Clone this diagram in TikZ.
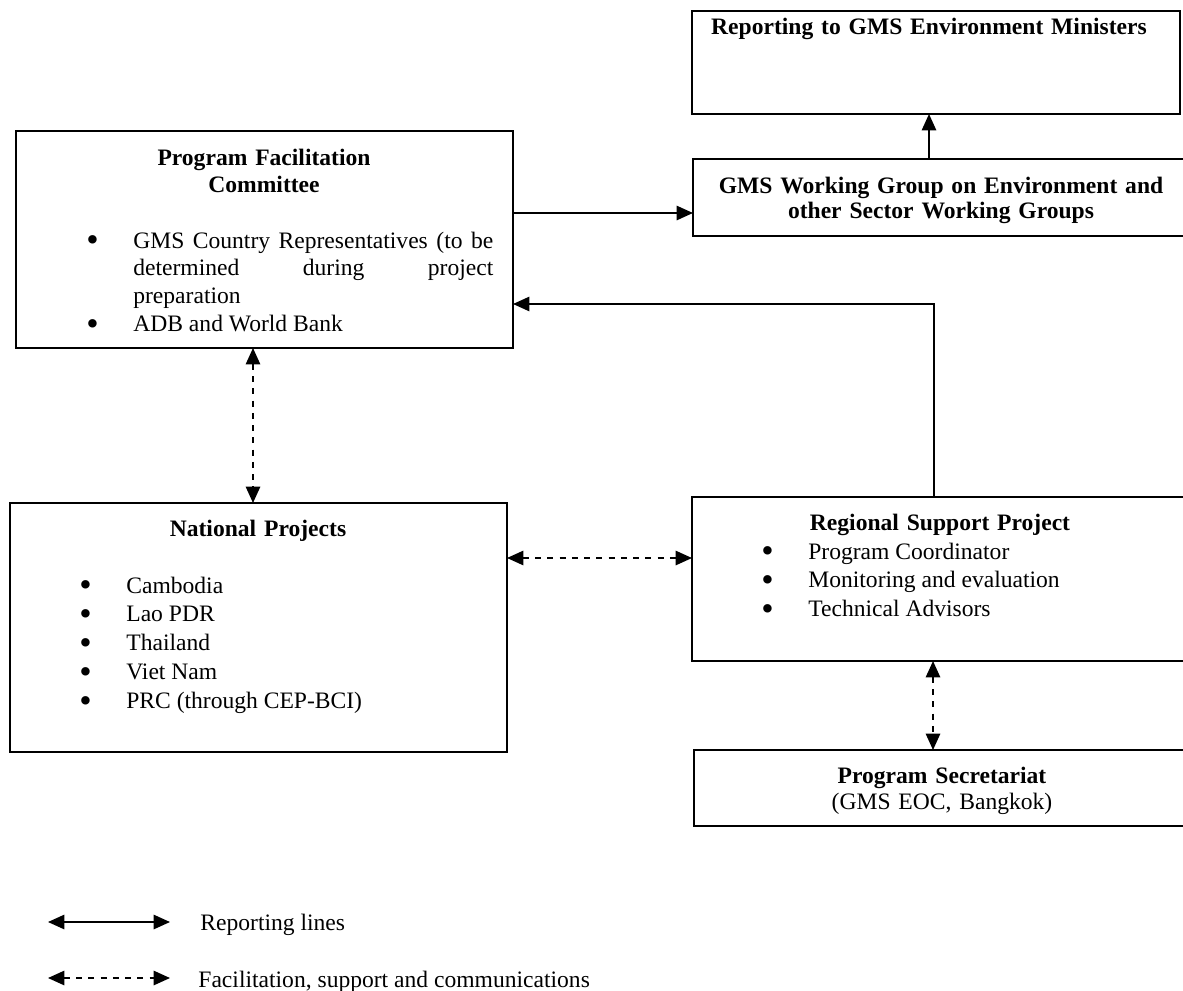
\documentclass[tikz,border=0pt]{standalone}
\usepackage{fontspec}
\usepackage{graphicx}
\setmainfont{Liberation Serif}
\usetikzlibrary{arrows.meta,fit}
\hbadness=10000
\hfuzz=5pt
\tikzset{
    box/.style={draw,line width=0.9pt,inner sep=0pt,outer sep=0pt},
    ttl/.style={anchor=base,align=center,inner sep=0pt,text width=240pt,
        font=\bfseries\fontsize{11.55pt}{12.74pt}\selectfont},
    blist/.style={anchor=base west,inner sep=0pt,text width=#1,align=justify,
        font=\fontsize{11.55pt}{14.2pt}\selectfont},
    blist/.default=200pt,
    legtxt/.style={anchor=base west,inner sep=0pt,font=\fontsize{11.55pt}{14pt}\selectfont},
    rep/.style={line width=0.9pt,->},
    rep2/.style={line width=0.9pt,<->},
    fac/.style={line width=0.9pt,dashed,<->},
}
% first item and next items of a bullet list
\newcommand{\fitem}{\hyphenpenalty=10000\hangindent=23pt\hangafter=1\noindent
    \makebox[23pt][l]{\smash{\raisebox{-1.8pt}{\scalebox{1.5}{\textbullet}}}}}
\newcommand{\bitem}{\par\fitem}

\begin{document}
\begin{tikzpicture}[x=0.49pt,y=-0.49pt,>={Triangle[length=8pt,width=7pt]}]
    \useasboundingbox (0,0) rectangle (1183,991);
    \clip (0,0) rectangle (1183,991);
    % boxes
    \node[box,fit={(692,11) (1180,114)}] (report) {};
    \node[box,fit={(693,159) (1192,236)}] (wg) {};
    \node[box,fit={(16,131) (513,348)}] (pfc) {};
    \node[box,fit={(10,503) (507,752)}] (np) {};
    \node[box,fit={(692,497) (1192,661)}] (rsp) {};
    \node[box,fit={(694,750) (1192,826)}] (ps) {};
    % titles
    \node[ttl] (reportT) at (929,35) {Reporting to GMS Environment Ministers};
    \node[ttl] (wgT) at (941,193) {GMS Working Group on Environment and\\other Sector Working Groups};
    \node[ttl] (pfcT) at (264,165) {Program Facilitation\\[0.6pt]Committee};
    \node[ttl] (npT) at (258,536) {National Projects};
    \node[ttl] (rspT) at (940,530) {Regional Support Project};
    \node[ttl] (psT) at (942,783) {Program Secretariat\\[0.3pt]{\normalfont(GMS EOC, Bangkok)}};
    % bullet lists
    \node[blist=199.4pt,font=\fontsize{11.55pt}{13.7pt}\selectfont] (pfcL) at (86,248)
        {\fitem GMS Country Representatives (to be\linebreak determined during project\linebreak preparation
         \bitem ADB and World Bank};
    \node[blist] (npL) at (79,593)
        {\fitem Cambodia\bitem Lao PDR\bitem Thailand\bitem Viet Nam\bitem PRC (through CEP-BCI)};
    \node[blist] (rspL) at (761,559)
        {\fitem Program Coordinator\bitem Monitoring and evaluation\bitem Technical Advisors};
    % reporting lines
    \coordinate (yRep) at (0,213);
    \draw[rep] (pfc.east |- yRep) -- (wg.west |- yRep);
    \coordinate (xUp) at (929,0);
    \draw[rep] (wg.north -| xUp) -- (report.south -| xUp);
    \coordinate (xBack) at (934,0);
    \coordinate (yBack) at (0,304);
    \draw[rep] (rsp.north -| xBack) |- (pfc.east |- yBack);
    % facilitation lines
    \coordinate (xNat) at (253,0);
    \draw[fac] (pfc.south -| xNat) -- (np.north -| xNat);
    \coordinate (yMid) at (0,558);
    \draw[fac] (np.east |- yMid) -- (rsp.west |- yMid);
    \coordinate (xSec) at (933,0);
    \draw[fac] (rsp.south -| xSec) -- (ps.north -| xSec);
    % legend
    \coordinate (legRepA) at (48,922);
    \coordinate (legRepB) at (170,922);
    \draw[rep2] (legRepA) -- (legRepB);
    \node[legtxt] (legRep) at (200,930) {Reporting lines};
    \coordinate (legFacA) at (48,978);
    \coordinate (legFacB) at (170,978);
    \draw[fac] (legFacA) -- (legFacB);
    \node[legtxt] (legFac) at (198,987) {Facilitation, support and communications};
\end{tikzpicture}
\end{document}
